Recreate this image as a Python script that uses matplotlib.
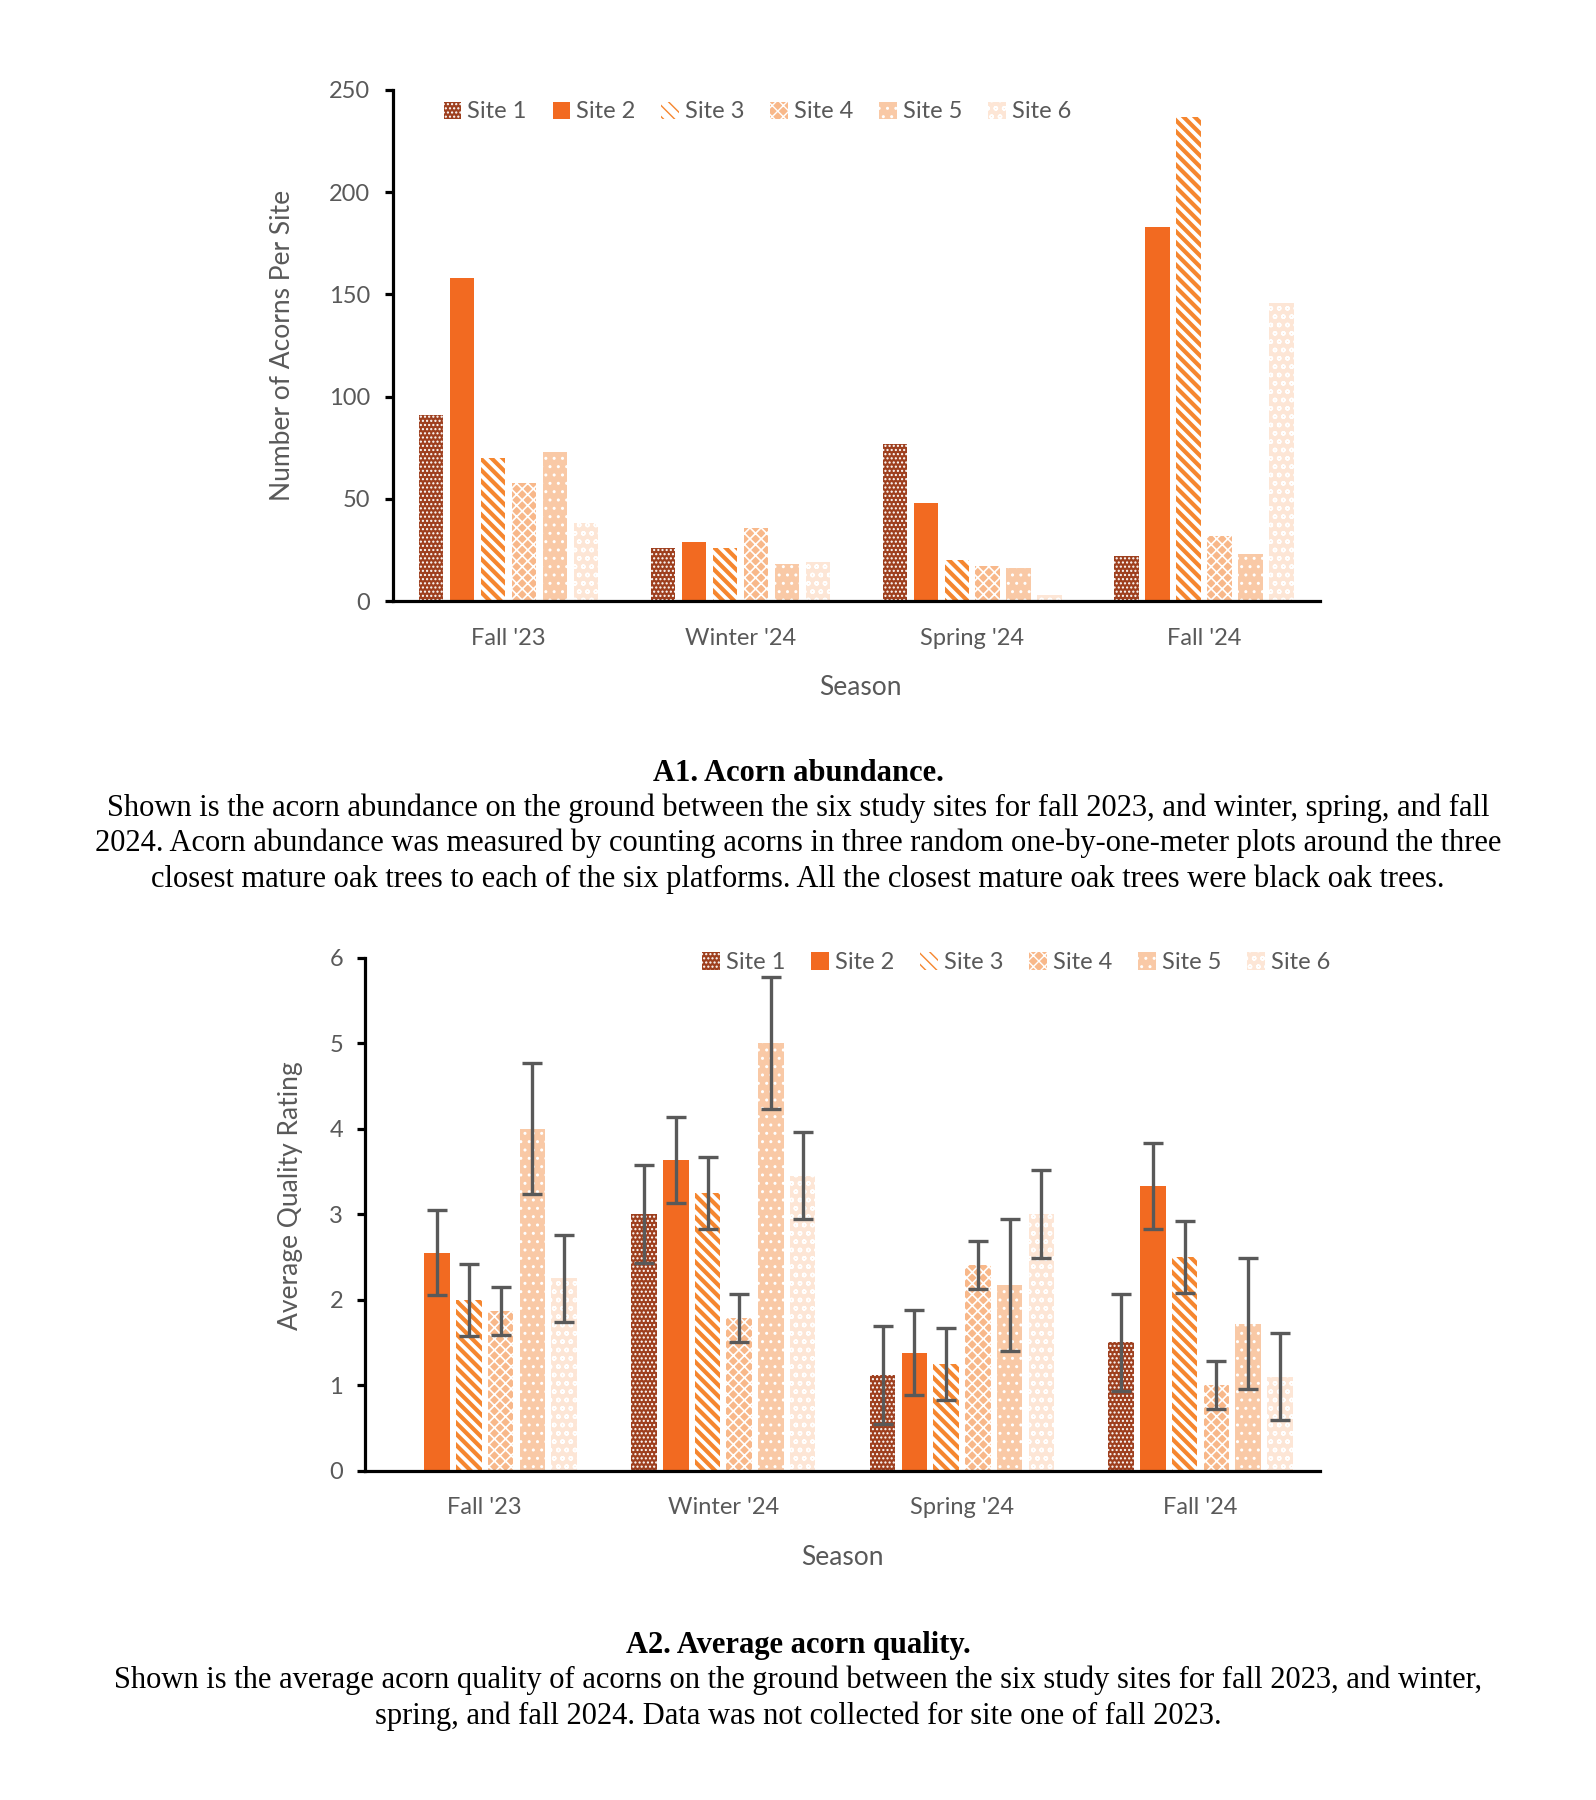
import matplotlib
matplotlib.use("Agg")
import matplotlib.pyplot as plt
import numpy as np

# Datos
seasons = ["Fall '23", "Winter '24", "Spring '24", "Fall '24"]
sites = ["Site 1", "Site 2", "Site 3", "Site 4", "Site 5", "Site 6"]

# A1 - abundancia (filas = sitio, columnas = temporada)
abund_s1 = [91, 26, 77, 22]
abund_s2 = [158, 29, 48, 183]
abund_s3 = [70, 26, 20, 237]
abund_s4 = [58, 36, 17, 32]
abund_s5 = [73, 18, 16, 23]
abund_s6 = [38, 19, 3, 146]

# A2 - calidad promedio y error
qual_s1 = [np.nan, 3.0, 1.12, 1.5]
qual_s2 = [2.55, 3.63, 1.38, 3.33]
qual_s3 = [2.0, 3.25, 1.25, 2.5]
qual_s4 = [1.87, 1.78, 2.4, 1.0]
qual_s5 = [4.0, 5.0, 2.17, 1.72]
qual_s6 = [2.25, 3.45, 3.0, 1.1]

err_s1 = [np.nan, 0.57, 0.57, 0.57]
err_s2 = [0.5, 0.5, 0.5, 0.5]
err_s3 = [0.42, 0.42, 0.42, 0.42]
err_s4 = [0.28, 0.28, 0.28, 0.28]
err_s5 = [0.77, 0.77, 0.77, 0.77]
err_s6 = [0.51, 0.51, 0.51, 0.51]

abund = [abund_s1, abund_s2, abund_s3, abund_s4, abund_s5, abund_s6]
qual = [qual_s1, qual_s2, qual_s3, qual_s4, qual_s5, qual_s6]
errs = [err_s1, err_s2, err_s3, err_s4, err_s5, err_s6]

# Estilo de cada sitio: (relleno, color del patron, patron, grosor patron)
estilos = [
    ("#9E3F1E", "white", "....", 1.0),
    ("#F26A21", "#F26A21", None, 1.0),
    ("white", "#F5862F", "\\\\\\", 3.0),
    ("#F8B88A", "white", "xxx", 1.2),
    ("#F9C9A6", "white", "..", 1.0),
    ("#FDE6D6", "white", "oo", 1.0),
]

gris = "#595959"
sans = ["Lato", "DejaVu Sans"]
serif = ["Liberation Serif", "DejaVu Serif"]
plt.rcParams['font.family'] = sans


def barras(ax, datos, pitch, width, errores=None):
    x = np.arange(len(seasons))
    for j, vals in enumerate(datos):
        face, hcol, hatch, hlw = estilos[j]
        pos = x + (j - 2.5) * pitch
        bars = ax.bar(pos, vals, width, color=face, edgecolor=hcol, linewidth=0,
                      hatch=hatch, label=sites[j], zorder=2)
        for b in bars:
            if hasattr(b, "set_hatch_linewidth"):
                b.set_hatch_linewidth(hlw)
        if errores is not None:
            ax.errorbar(pos, vals, yerr=errores[j], fmt="none", ecolor=gris,
                        elinewidth=2.4, capsize=7, capthick=2.4, zorder=3)
    ax.set_xticks(x)
    ax.set_xticklabels(seasons)
    ax.set_xlim(-0.5, 3.5)
    for s in ["top", "right"]:
        ax.spines[s].set_visible(False)
    for s in ["left", "bottom"]:
        ax.spines[s].set_linewidth(2.3)
        ax.spines[s].set_color("black")
    ax.tick_params(axis="x", length=0, pad=19, labelsize=17, labelcolor=gris)
    ax.tick_params(axis="y", length=6, width=2.3, pad=10, labelsize=17,
                   labelcolor=gris, direction="out")
    ax.set_xlabel("Season", fontsize=19, color=gris)


def leyenda(ax, x, y):
    ax.legend(loc="center left", bbox_to_anchor=(x, y), ncol=6, frameon=False,
              fontsize=17, labelcolor=gris, handlelength=0.75, handleheight=0.75,
              handletextpad=0.25, columnspacing=1.1, borderaxespad=0, borderpad=0)


fig = plt.figure(figsize=(15.96, 18), dpi=100)

# Grafico A1
ax1 = fig.add_axes([0.246, 0.666, 0.581, 0.284])
barras(ax1, abund, 0.1335, 0.105)
ax1.set_ylim(0, 250)
ax1.set_yticks(range(0, 251, 50))
ax1.set_ylabel("Number of Acorns Per Site", fontsize=19, color=gris)
ax1.yaxis.set_label_coords(-0.105, 0.5)
ax1.xaxis.set_label_coords(0.504, -0.145)
leyenda(ax1, 0.055, 0.957)

# Grafico A2
ax2 = fig.add_axes([0.229, 0.183, 0.598, 0.285])
barras(ax2, qual, 0.133, 0.107, errs)
ax2.set_ylim(0, 6)
ax2.set_yticks(range(0, 7))
ax2.set_ylabel("Average Quality Rating", fontsize=19, color=gris)
ax2.yaxis.set_label_coords(-0.065, 0.535)
ax2.xaxis.set_label_coords(0.5, -0.146)
leyenda(ax2, 0.353, 0.99)

# Textos de las figuras
a1_lineas = [
    "Shown is the acorn abundance on the ground between the six study sites for fall 2023, and winter, spring, and fall",
    "2024. Acorn abundance was measured by counting acorns in three random one-by-one-meter plots around the three",
    "closest mature oak trees to each of the six platforms. All the closest mature oak trees were black oak trees.",
]
a2_lineas = [
    "Shown is the average acorn quality of acorns on the ground between the six study sites for fall 2023, and winter,",
    "spring, and fall 2024. Data was not collected for site one of fall 2023.",
]

fig.text(0.5, 1 - 773 / 1800, "A1. Acorn abundance.", ha="center", va="center",
         fontsize=22, fontweight="bold", family=serif)
for k, linea in enumerate(a1_lineas):
    fig.text(0.5, 1 - (808 + 35.5 * k) / 1800, linea, ha="center", va="center",
             fontsize=22, family=serif)

fig.text(0.5, 1 - 1645 / 1800, "A2. Average acorn quality.", ha="center", va="center",
         fontsize=22, fontweight="bold", family=serif)
for k, linea in enumerate(a2_lineas):
    fig.text(0.5, 1 - (1680 + 36 * k) / 1800, linea, ha="center", va="center",
             fontsize=22, family=serif)

fig.savefig("out.png", dpi=100, facecolor="white")
